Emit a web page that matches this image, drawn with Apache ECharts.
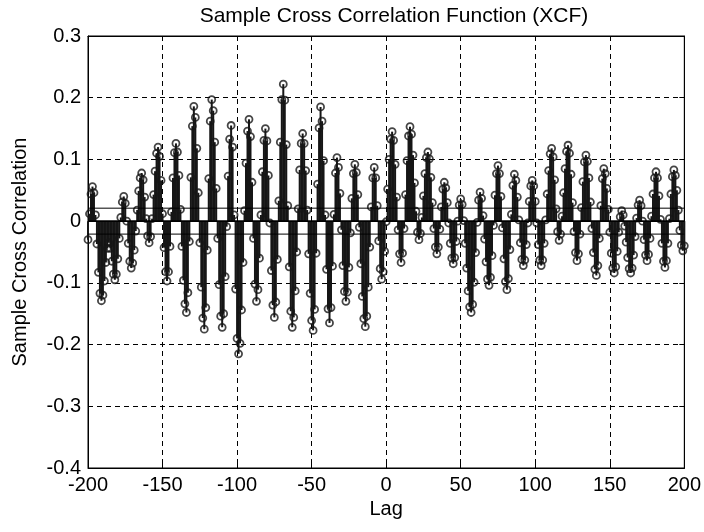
<!DOCTYPE html>
<html>
<head>
<meta charset="utf-8">
<script src="https://cdn.jsdelivr.net/npm/echarts@6/dist/echarts.min.js"></script>
<style>
html,body{margin:0;padding:0;background:#fff;}
#chart{width:704px;height:532px;}
</style>
</head>
<body>
<div id="chart"></div>
<script>
// ---- data ----
var lagStart = -200;           // first lag
var lagEnd = 200;              // last lag
// sample cross correlation values, one per lag from -200 to 200
var xcfValues = [
  -0.030, 0.012, 0.044, 0.056, 0.046, 0.010,-0.037,-0.083,-0.117,-0.129, // -200..-191
  -0.120,-0.097,-0.067,-0.044,-0.035,-0.044,-0.065,-0.086,-0.095,-0.086, // -190..-181
  -0.061,-0.028, 0.006, 0.031, 0.040, 0.029, 0.000,-0.036,-0.065,-0.076, // -180..-171
  -0.068,-0.047,-0.016, 0.018, 0.049, 0.070, 0.078, 0.067, 0.039, 0.004, // -170..-161
  -0.024,-0.035,-0.025, 0.004, 0.043, 0.081, 0.110, 0.120, 0.105, 0.066, // -160..-151
   0.012,-0.043,-0.082,-0.097,-0.082,-0.041, 0.015, 0.070, 0.111, 0.126, // -150..-141
   0.112, 0.074, 0.019,-0.041,-0.096,-0.134,-0.148,-0.116,-0.033, 0.071, // -140..-131
   0.154, 0.186, 0.168, 0.118, 0.046,-0.035,-0.107,-0.157,-0.175,-0.140, // -130..-121
  -0.047, 0.069, 0.162, 0.197, 0.179, 0.128, 0.053,-0.028,-0.103,-0.154, // -120..-111
  -0.172,-0.150,-0.090,-0.009, 0.073, 0.133, 0.155, 0.120, 0.010,-0.110, // -110..-101
  -0.190,-0.215,-0.198,-0.144,-0.067, 0.017, 0.094, 0.146, 0.165, 0.137, // -100..-91
   0.063,-0.028,-0.102,-0.130,-0.111,-0.060, 0.010, 0.080, 0.131, 0.150, // -90..-81
   0.130, 0.074,-0.003,-0.080,-0.136,-0.156,-0.131,-0.062, 0.033, 0.128, // -80..-71
   0.197, 0.222, 0.196, 0.124, 0.025,-0.074,-0.146,-0.172,-0.156,-0.113, // -70..-61
  -0.050, 0.020, 0.083, 0.126, 0.142, 0.126, 0.082, 0.018,-0.053,-0.117, // -60..-51
  -0.161,-0.177,-0.143,-0.052, 0.060, 0.151, 0.185, 0.162, 0.098, 0.010, // -50..-41
  -0.078,-0.142,-0.165,-0.140,-0.073, 0.011, 0.078, 0.103, 0.087, 0.045, // -40..-31
  -0.014,-0.072,-0.114,-0.130,-0.115,-0.075,-0.019, 0.037, 0.077, 0.092, // -30..-21
   0.079, 0.043,-0.010,-0.069,-0.122,-0.158,-0.171,-0.154,-0.107,-0.042, // -20..-11
   0.023, 0.070, 0.087, 0.070, 0.025,-0.032,-0.077,-0.094,-0.082,-0.049, // -10..-1
  -0.001, 0.052, 0.100, 0.133, 0.145, 0.131, 0.092, 0.039,-0.014,-0.053, // 0..9
  -0.067,-0.052,-0.012, 0.043, 0.098, 0.138, 0.153, 0.141, 0.107, 0.062, // 10..19
   0.016,-0.018,-0.030,-0.020, 0.006, 0.041, 0.077, 0.103, 0.112, 0.101, // 20..29
   0.071, 0.030,-0.012,-0.042,-0.053,-0.042,-0.013, 0.023, 0.052, 0.063, // 30..39
   0.054, 0.030,-0.003,-0.036,-0.060,-0.069,-0.059,-0.033, 0.000, 0.026, // 40..49
   0.036, 0.027, 0.001,-0.036,-0.076,-0.113,-0.139,-0.148,-0.135,-0.099, // 50..59
  -0.051,-0.002, 0.034, 0.047, 0.037, 0.009,-0.029,-0.066,-0.094,-0.104, // 60..69
  -0.091,-0.056,-0.007, 0.042, 0.077, 0.090, 0.077, 0.040,-0.011,-0.061, // 70..79
  -0.098,-0.111,-0.093,-0.046, 0.011, 0.058, 0.076, 0.066, 0.039, 0.002, // 80..89
  -0.035,-0.062,-0.072,-0.063,-0.038,-0.003, 0.032, 0.057, 0.066, 0.057, // 90..99
   0.032,-0.003,-0.038,-0.063,-0.072,-0.063,-0.036, 0.002, 0.044, 0.082, // 100..109
   0.109, 0.118, 0.104, 0.067, 0.020,-0.017,-0.031,-0.021, 0.008, 0.046, // 110..119
   0.085, 0.113, 0.123, 0.110, 0.076, 0.030,-0.017,-0.051,-0.064,-0.053, // 120..129
  -0.021, 0.022, 0.064, 0.096, 0.107, 0.097, 0.070, 0.031,-0.012,-0.051, // 130..139
  -0.078,-0.088,-0.072,-0.028, 0.025, 0.069, 0.085, 0.077, 0.053, 0.019, // 140..149
  -0.018,-0.052,-0.076,-0.084,-0.074,-0.049,-0.018, 0.007, 0.017, 0.010, // 150..159
  -0.008,-0.034,-0.059,-0.077,-0.084,-0.076,-0.055,-0.025, 0.005, 0.026, // 160..169
   0.034, 0.025, 0.000,-0.030,-0.055,-0.064,-0.054,-0.028, 0.008, 0.044, // 170..179
   0.070, 0.080, 0.070, 0.041, 0.003,-0.036,-0.065,-0.075,-0.064,-0.036, // 180..189
   0.004, 0.044, 0.072, 0.083, 0.074, 0.050, 0.018,-0.015,-0.039,-0.048, // 190..199
  -0.040                                                                  // 200
];
var confBounds = [0.021, -0.021];   // approximate confidence bounds
var xTickValues = [-200, -150, -100, -50, 0, 50, 100, 150, 200];
var yTickValues = [-0.4, -0.3, -0.2, -0.1, 0, 0.1, 0.2, 0.3];

var titleText = 'Sample Cross Correlation Function (XCF)';
var xName = 'Lag';
var yName = 'Sample Cross Correlation';

// ---- build ----
var points = [];
for (var i = 0; i < xcfValues.length; i++) {
  points.push([lagStart + i, xcfValues[i]]);
}
var FONT = 'Liberation Sans, Arial, sans-serif';
var INK = '#161616';

var chart = echarts.init(document.getElementById('chart'), null, {renderer: 'canvas'});

function hLine(y, w) {
  return {
    type: 'line', data: [[lagStart, y], [lagEnd, y]], symbol: 'none', silent: true,
    lineStyle: {color: '#000', width: w}, z: 5, animation: false
  };
}

var option = {
  animation: false,
  backgroundColor: '#fff',
  title: {
    text: titleText, left: 389, top: 1, textAlign: 'center',
    textStyle: {fontFamily: FONT, fontSize: 21, fontWeight: 'normal', color: '#000'}
  },
  grid: {left: 88, right: 16, top: 36, bottom: 64, show: true, borderColor: '#000', borderWidth: 1, backgroundColor: '#fff'},
  xAxis: [{
    type: 'value', min: lagStart, max: lagEnd, interval: 50,
    name: xName, nameLocation: 'middle', nameGap: 28,
    nameTextStyle: {fontFamily: FONT, fontSize: 20, color: '#000'},
    axisLine: {show: true, onZero: false, lineStyle: {color: '#000', width: 1}},
    axisTick: {show: true, inside: true, length: 5, lineStyle: {color: '#000'}},
    axisLabel: {fontFamily: FONT, fontSize: 20, color: '#000', margin: 7,
      formatter: function (v) { return xTickValues.indexOf(v) >= 0 ? String(v) : ''; }},
    splitLine: {show: true, lineStyle: {color: '#000', type: [5, 4], width: 1}}
  }, {
    type: 'value', min: lagStart, max: lagEnd, interval: 50, position: 'top',
    axisLine: {show: true, onZero: false, lineStyle: {color: '#000'}},
    axisTick: {show: true, inside: true, length: 5, lineStyle: {color: '#000'}},
    axisLabel: {show: false}, splitLine: {show: false}
  }],
  yAxis: [{
    type: 'value', min: -0.4, max: 0.3, interval: 0.1,
    name: yName, nameLocation: 'middle', nameGap: 58, nameRotate: 90,
    nameTextStyle: {fontFamily: FONT, fontSize: 20, color: '#000'},
    axisLine: {show: true, onZero: false, lineStyle: {color: '#000', width: 1}},
    axisTick: {show: true, inside: true, length: 5, lineStyle: {color: '#000'}},
    axisLabel: {fontFamily: FONT, fontSize: 20, color: '#000', margin: 7,
      formatter: function (v) {
        var r = Math.round(v * 10) / 10;
        for (var k = 0; k < yTickValues.length; k++) {
          if (Math.abs(yTickValues[k] - r) < 1e-9) return String(yTickValues[k]);
        }
        return '';
      }},
    splitLine: {show: true, lineStyle: {color: '#000', type: [5, 4], width: 1}}
  }, {
    type: 'value', min: -0.4, max: 0.3, interval: 0.1, position: 'right',
    axisLine: {show: true, onZero: false, lineStyle: {color: '#000'}},
    axisTick: {show: true, inside: true, length: 5, lineStyle: {color: '#000'}},
    axisLabel: {show: false}, splitLine: {show: false}
  }],
  series: [
    {
      type: 'custom', name: 'stems', data: points, z: 3, silent: true,
      renderItem: function (params, api) {
        var x = api.value(0), y = api.value(1);
        var p0 = api.coord([x, 0]);
        var p1 = api.coord([x, y]);
        return {
          type: 'line',
          shape: {x1: p0[0], y1: p0[1], x2: p1[0], y2: p1[1]},
          style: {stroke: INK, lineWidth: 2}
        };
      }
    },
    {
      type: 'scatter', name: 'xcf', data: points, z: 4, silent: true,
      symbol: 'circle', symbolSize: 7,
      itemStyle: {color: 'rgba(255,255,255,0)', borderColor: INK, borderWidth: 1.8}
    },
    hLine(0, 1.8),
    hLine(confBounds[0], 1),
    hLine(confBounds[1], 1)
  ]
};
chart.setOption(option);
</script>
</body>
</html>
